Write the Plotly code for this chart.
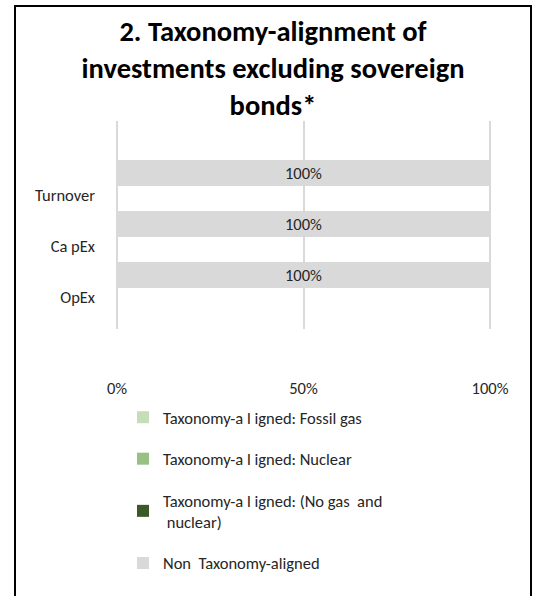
import plotly.graph_objects as go

# ---- data ----
categories = ["Turnover", "Ca pEx", "OpEx"]
series_names = [
    "Taxonomy-a l igned: Fossil gas",
    "Taxonomy-a l igned: Nuclear",
    "Taxonomy-a l igned: (No gas  and<br>\u00a0nuclear)",
    "Non  Taxonomy-aligned",
]
fossil_gas = [0, 0, 0]
nuclear = [0, 0, 0]
no_gas_nuclear = [0, 0, 0]
non_aligned = [100, 100, 100]
series_values = [fossil_gas, nuclear, no_gas_nuclear, non_aligned]
series_colors = ["#C6DEB8", "#98BF84", "#3B5827", "#D9D9D9"]
x_tickvals = [0, 50, 100]
x_ticktext = ["0%", "50%", "100%"]
title_text = "2. Taxonomy-alignment of<br>investments excluding sovereign<br>bonds*"

FONT = "Calibri, Carlito, Lato, sans-serif"
TXT = "#262626"
FS = 16.5

W, H = 538, 596
L, R, T, B = 113, 494, 121, 329  # plot area in px
X0PX, X100PX = 117, 490          # where 0% and 100% fall
scale = (X100PX - X0PX) / 100.0
x_range = [-(X0PX - L) / scale, 100 + (R - X100PX) / scale]

fig = go.Figure()
for i, (name, vals, col) in enumerate(zip(series_names, series_values, series_colors)):
    last = i == len(series_names) - 1
    fig.add_trace(go.Bar(
        y=categories, x=vals, name=name, orientation="h",
        marker=dict(color=col, line=dict(width=0)),
        offset=-0.691, width=0.52,
        legendgroup=f"g{i}",
        text=[f"{v:.0f}%" for v in vals] if last else None,
        textposition="inside" if last else "none",
        insidetextanchor="middle",
        textfont=dict(family=FONT, size=FS, color=TXT),
        hoverinfo="skip",
    ))

def px2paper_x(px):
    return (px - L) / (R - L)

def px2paper_y(py):
    return (B - py) / (B - T)

fig.update_layout(
    width=W, height=H,
    margin=dict(l=L, r=W - R, t=T, b=H - B, pad=0),
    paper_bgcolor="white", plot_bgcolor="white",
    barmode="stack",
    font=dict(family=FONT, size=FS, color=TXT),
    title=dict(
        text=title_text, x=273 / W, xanchor="center", xref="container",
        y=1 - 41 / H, yanchor="top", yref="container",
        font=dict(family=FONT, size=28.5, color="#000000", weight="bold"),
    ),
    xaxis=dict(
        range=x_range, tickvals=x_tickvals, ticktext=x_ticktext,
        showgrid=True, gridcolor="#D9D9D9", gridwidth=2,
        zeroline=False, showline=False, ticks="",
        ticklabelstandoff=47, tickfont=dict(family=FONT, size=FS, color=TXT),
        fixedrange=True,
    ),
    yaxis=dict(
        categoryorder="array", categoryarray=categories,
        range=[2.627, -1.451], showgrid=False, zeroline=False, showline=False,
        ticks="", ticklabelstandoff=17, tickfont=dict(family=FONT, size=FS, color=TXT),
        fixedrange=True,
    ),
    legend=dict(
        x=px2paper_x(123), xanchor="left",
        y=px2paper_y(400), yanchor="top",
        orientation="v", traceorder="grouped", tracegroupgap=17,
        bgcolor="rgba(0,0,0,0)", font=dict(family=FONT, size=FS, color=TXT),
    ),
    showlegend=True,
)

# outer chart frame
fig.add_shape(
    type="rect", xref="paper", yref="paper",
    x0=px2paper_x(15), x1=px2paper_x(531),
    y0=px2paper_y(605), y1=px2paper_y(6),
    line=dict(color="#000000", width=2), fillcolor="rgba(0,0,0,0)", layer="above",
)

fig.write_html(
    "out.html",
    config={"displayModeBar": False},
    post_script="document.body.style.margin='0';",
)
